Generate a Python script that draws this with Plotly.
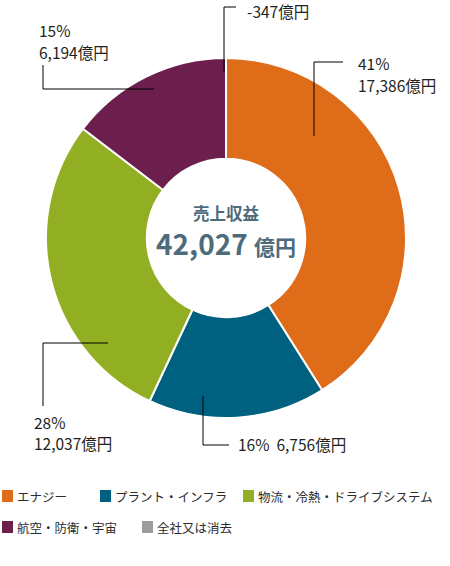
import plotly.graph_objects as go

W, H = 450, 566

# data (億円)
segments = ["エナジー", "プラント・インフラ", "物流・冷熱・ドライブシステム", "航空・防衛・宇宙"]
revenue = [17386, 6756, 12037, 6194]
shares = [41, 16, 28, 15]
colors = ["#DE6C18", "#00607F", "#92AF23", "#6C1F4C"]

other_label = "全社又は消去"
other_value = -347
other_color = "#9D9D9D"

total = 42027
center_title = "売上収益"

FONT = "Noto Sans CJK JP"
TEXT = "#231F20"


def px(x):
    return x / W


def py(y):
    return 1 - y / H


# pie centre (226, 238), radius 180 in pixels
cx, cy, r = 226, 238, 180

fig = go.Figure()
fig.add_trace(
    go.Pie(
        labels=segments,
        values=revenue,
        marker=dict(colors=colors, line=dict(color="white", width=2)),
        hole=0.44,
        sort=False,
        direction="clockwise",
        rotation=0,
        textinfo="none",
        hoverinfo="label+value",
        showlegend=False,
        domain=dict(x=[px(cx - r), px(cx + r)], y=[py(cy + r), py(cy - r)]),
    )
)


def yen(v):
    return f"{v:,}億円"


# leader lines (pixel polylines)
leaders = [
    [(314, 136), (314, 62), (343, 62)],     # energy
    [(203, 396), (203, 445), (229, 445)],   # plant
    [(108, 343), (43, 343), (43, 406)],     # logistics
    [(154, 89), (43, 89), (43, 65)],        # aero
    [(224, 72), (224, 7), (236, 7)],        # corporate
]
for pts in leaders:
    for (x0, y0), (x1, y1) in zip(pts[:-1], pts[1:]):
        fig.add_shape(type="line", xref="paper", yref="paper",
                      x0=px(x0), y0=py(y0), x1=px(x1), y1=py(y1),
                      line=dict(color="black", width=1))

# label lines: (x, y, text)
labels = [
    (356, 63, f"{shares[0]}%"),
    (356, 85, yen(revenue[0])),
    (236, 444, f"{shares[1]}%  {yen(revenue[1])}"),
    (32, 422, f"{shares[2]}%"),
    (32, 443, yen(revenue[2])),
    (37, 30, f"{shares[3]}%"),
    (37, 52, yen(revenue[3])),
    (245, 11, yen(other_value)),
]
for x, y, t in labels:
    fig.add_annotation(x=px(x), y=py(y), xref="paper", yref="paper", text=t,
                       showarrow=False, xanchor="left", yanchor="middle", align="left",
                       font=dict(family=FONT, size=15.5, color=TEXT))

# centre text
fig.add_annotation(x=px(cx), y=py(213), xref="paper", yref="paper",
                   text=f"<b>{center_title}</b>", showarrow=False,
                   font=dict(family=FONT, size=16.5, color="#4E6B7B"))
fig.add_annotation(x=px(cx), y=py(243), xref="paper", yref="paper",
                   text=f"<b>{total:,}</b> <b><span style='font-size:21px'>億円</span></b>",
                   showarrow=False,
                   font=dict(family=FONT, size=28, color="#4E6B7B"))

# legend (manual so the grey item fits)
legend_items = list(zip(segments + [other_label], colors + [other_color]))
legend_pos = [(2, 496), (100, 496), (243, 496), (2, 527), (142, 527)]
for (name, col), (x, y) in zip(legend_items, legend_pos):
    fig.add_shape(type="rect", xref="paper", yref="paper",
                  x0=px(x), x1=px(x + 11), y0=py(y + 6), y1=py(y - 6),
                  fillcolor=col, line=dict(width=0))
    fig.add_annotation(x=px(x + 13), y=py(y), xref="paper", yref="paper",
                       text=name, showarrow=False, xanchor="left", yanchor="middle",
                       font=dict(family=FONT, size=12.5, color="#2B2B2B"))

fig.update_layout(
    width=W, height=H,
    margin=dict(l=0, r=0, t=0, b=0),
    paper_bgcolor="white",
    plot_bgcolor="white",
)

# drop the default page margin so the figure fills the window
fig.write_html("out.html", config={"displayModeBar": False},
               post_script="document.body.style.margin='0';")
